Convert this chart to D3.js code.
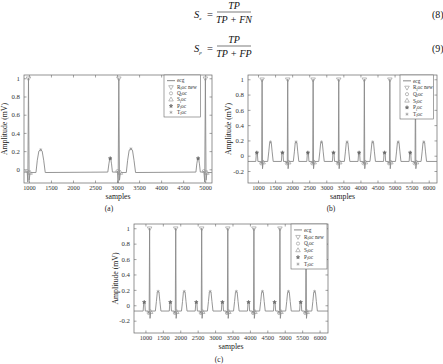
<!DOCTYPE html>
<html lang="en">
<head>
    <meta charset="UTF-8">
    <title>ECG detection</title>
    <script src="https://d3js.org/d3.v7.min.js"></script>
    <style>
        body { margin: 0; background: #fff; }
        svg { display: block; font-family: "Liberation Serif", "DejaVu Serif", serif; }
        .tick text { font-family: "Liberation Serif", serif; fill: #333; }
        .tick line { stroke: #666; stroke-width: 0.6; }
    </style>
</head>
<body>
<script>
    // ---- data ----
    const xTicksA = [1000, 1500, 2000, 2500, 3000, 3500, 4000, 4500, 5000];
    const yTicksA = [0, 0.2, 0.4, 0.6, 0.8, 1];
    const xTicksBC = [1000, 1500, 2000, 2500, 3000, 3500, 4000, 4500, 5000, 5500, 6000];
    const yTicksBC = [-0.2, 0, 0.2, 0.4, 0.6, 0.8, 1];

    const legendLabels = ["ecg", "R|l|oc new", "Q|l|oc", "S|l|oc", "P|l|oc", "T|l|oc"];

    // ecg of panel (a): [sample, amplitude]
    const ecgA = [
        [890, -0.03], [940, -0.03], [960, -0.02], [975, -0.14], [990, 1.0], [1005, -0.12], [1025, -0.04], [1045, -0.035],
        [1160, -0.035], [1190, 0.1], [1225, 0.2], [1268, 0.215], [1300, 0.2], [1335, 0.1], [1370, -0.035],
        [2790, -0.03], [2815, 0.06], [2835, 0.12], [2855, 0.12], [2875, 0.06], [2895, -0.03],
        [2990, -0.03], [3010, -0.02], [3025, -0.15], [3040, 1.0], [3055, -0.12], [3075, -0.04], [3095, -0.035],
        [3210, -0.035], [3240, 0.1], [3275, 0.21], [3315, 0.225], [3350, 0.21], [3385, 0.1], [3420, -0.035],
        [4790, -0.03], [4810, 0.06], [4830, 0.12], [4850, 0.12], [4870, 0.06], [4890, -0.03],
        [4955, -0.03], [4970, -0.02], [4990, -0.14], [5005, 1.0], [5020, -0.12], [5040, -0.04], [5060, -0.035],
        [5150, -0.035]
    ];
    const rLocA = [[990, 1], [3040, 1], [5005, 1]];
    const qLocA = [[960, -0.02], [3010, -0.02], [4970, -0.02]];
    const sLocA = [[1025, -0.04], [3075, -0.04], [5040, -0.04]];
    const pLocA = [[2845, 0.12], [4840, 0.12]];
    const tLocA = [[1268, 0.215], [3315, 0.225]];

    // ecg of panels (b) and (c)
    const ecgBC = [
        [670, -0.075],
        [935, -0.075], [952, 0.04], [980, 0.04], [997, -0.075],
        [1075, -0.075], [1095, -0.1], [1108, -0.07], [1120, 1.0], [1132, -0.17], [1150, -0.09], [1165, -0.075],
        [1285, -0.075], [1315, 0.05], [1340, 0.165], [1365, 0.18], [1390, 0.165], [1415, 0.05], [1445, -0.075],
        [1685, -0.075], [1702, 0.04], [1730, 0.04], [1747, -0.075],
        [1825, -0.075], [1845, -0.1], [1858, -0.07], [1870, 1.0], [1882, -0.17], [1900, -0.09], [1915, -0.075],
        [2035, -0.075], [2065, 0.05], [2090, 0.165], [2115, 0.18], [2140, 0.165], [2165, 0.05], [2195, -0.075],
        [2430, -0.075], [2447, 0.04], [2475, 0.04], [2492, -0.075],
        [2570, -0.075], [2590, -0.1], [2603, -0.07], [2615, 1.0], [2627, -0.17], [2645, -0.09], [2660, -0.075],
        [2780, -0.075], [2810, 0.05], [2835, 0.165], [2860, 0.18], [2885, 0.165], [2910, 0.05], [2940, -0.075],
        [3180, -0.075], [3197, 0.04], [3225, 0.04], [3242, -0.075],
        [3320, -0.075], [3340, -0.1], [3353, -0.07], [3365, 1.0], [3377, -0.17], [3395, -0.09], [3410, -0.075],
        [3530, -0.075], [3560, 0.05], [3585, 0.165], [3610, 0.18], [3635, 0.165], [3660, 0.05], [3690, -0.075],
        [3930, -0.075], [3947, 0.04], [3975, 0.04], [3992, -0.075],
        [4070, -0.075], [4090, -0.1], [4103, -0.07], [4115, 1.0], [4127, -0.17], [4145, -0.09], [4160, -0.075],
        [4280, -0.075], [4310, 0.05], [4335, 0.165], [4360, 0.18], [4385, 0.165], [4410, 0.05], [4440, -0.075],
        [4677, -0.075], [4694, 0.04], [4722, 0.04], [4739, -0.075],
        [4817, -0.075], [4837, -0.1], [4850, -0.07], [4862, 1.0], [4874, -0.17], [4892, -0.09], [4907, -0.075],
        [5027, -0.075], [5057, 0.05], [5082, 0.165], [5107, 0.18], [5132, 0.165], [5157, 0.05], [5187, -0.075],
        [5427, -0.075], [5444, 0.04], [5472, 0.04], [5489, -0.075],
        [5567, -0.075], [5587, -0.1], [5600, -0.07], [5612, 1.0], [5624, -0.17], [5642, -0.09], [5657, -0.075],
        [5777, -0.075], [5807, 0.05], [5832, 0.165], [5857, 0.18], [5882, 0.165], [5907, 0.05], [5937, -0.075],
        [6240, -0.075]
    ];
    const rLocBC = [[1120, 1], [1870, 1], [2615, 1], [3365, 1], [4115, 1], [4862, 1], [5612, 1]];
    const qLocBC = [[1095, -0.1], [1845, -0.1], [2590, -0.1], [3340, -0.1], [4090, -0.1], [4837, -0.1], [5587, -0.1]];
    const sLocBC = [[1150, -0.09], [1900, -0.09], [2645, -0.09], [3395, -0.09], [4145, -0.09], [4892, -0.09], [5642, -0.09]];
    const pLocBC = [[966, 0.04], [1716, 0.04], [2461, 0.04], [3211, 0.04], [3961, 0.04], [4708, 0.04], [5458, 0.04]];
    const tLocBC = [[1365, 0.18], [2115, 0.18], [2860, 0.18], [3610, 0.18], [4360, 0.18], [5107, 0.18], [5857, 0.18]];

    // ---- drawing ----
    const svg = d3.select("body").append("svg")
        .attr("width", 443)
        .attr("height", 364);

    const lineColor = "#8a8a8a";
    const markColor = "#8f8f8f";

    const symbols = [
        {type: d3.symbolTriangle, rot: 180, size: 9, fill: "none"},   // R
        {type: d3.symbolCircle, rot: 0, size: 8, fill: "none"},       // Q
        {type: d3.symbolTriangle, rot: 0, size: 9, fill: "none"},     // S
        {type: d3.symbolStar, rot: 0, size: 4, fill: "#6a6a6a"},      // P
        {type: d3.symbolAsterisk, rot: 0, size: 7, fill: "none"}      // T
    ];

    function drawMarks(g, x, y, pts, s) {
        g.selectAll(null)
            .data(pts)
            .join("path")
            .attr("d", d3.symbol().type(s.type).size(s.size))
            .attr("transform", d => `translate(${x(d[0])},${y(d[1])}) rotate(${s.rot})`)
            .attr("fill", s.fill)
            .attr("stroke", s.fill === "none" ? markColor : "#6a6a6a")
            .attr("stroke-width", 0.6);
    }

    function panel(o) {
        const x = d3.scaleLinear().domain(o.xDomain).range([o.left, o.right]);
        const y = d3.scaleLinear().domain(o.yDomain).range([o.bottom, o.top]);
        const g = svg.append("g");

        g.append("clipPath").attr("id", "clip" + o.id)
            .append("rect")
            .attr("x", o.left).attr("y", o.top)
            .attr("width", o.right - o.left).attr("height", o.bottom - o.top);

        // axes, MATLAB style: ticks inside on all four sides
        const bottom = g.append("g")
            .attr("transform", `translate(0,${o.bottom})`)
            .call(d3.axisBottom(x).tickValues(o.xTicks).tickSizeInner(-2.5).tickSizeOuter(0).tickPadding(3)
                .tickFormat(d => String(d)));
        g.append("g")
            .attr("transform", `translate(0,${o.top})`)
            .call(d3.axisTop(x).tickValues(o.xTicks).tickSizeInner(-2.5).tickSizeOuter(0).tickFormat(""));
        const left = g.append("g")
            .attr("transform", `translate(${o.left},0)`)
            .call(d3.axisLeft(y).tickValues(o.yTicks).tickSizeInner(-2.5).tickSizeOuter(0).tickPadding(4)
                .tickFormat(d => String(d)));
        g.append("g")
            .attr("transform", `translate(${o.right},0)`)
            .call(d3.axisRight(y).tickValues(o.yTicks).tickSizeInner(-2.5).tickSizeOuter(0).tickFormat(""));
        g.selectAll(".domain").remove();
        bottom.attr("font-family", "Liberation Serif").selectAll("text").attr("font-size", 6.3);
        left.attr("font-family", "Liberation Serif").selectAll("text").attr("font-size", 6.8);

        // signal
        const data = g.append("g").attr("clip-path", `url(#clip${o.id})`);
        data.append("path")
            .datum(o.ecg)
            .attr("fill", "none")
            .attr("stroke", lineColor)
            .attr("stroke-width", 0.9)
            .attr("d", d3.line().x(d => x(d[0])).y(d => y(d[1])));

        [o.r, o.q, o.s, o.p, o.t].forEach((pts, i) => drawMarks(data, x, y, pts, symbols[i]));

        // box
        g.append("rect")
            .attr("x", o.left).attr("y", o.top)
            .attr("width", o.right - o.left).attr("height", o.bottom - o.top)
            .attr("fill", "none").attr("stroke", "#666").attr("stroke-width", 0.7);

        // labels
        g.append("text")
            .attr("x", (o.left + o.right) / 2)
            .attr("y", o.bottom + 15.5)
            .attr("text-anchor", "middle")
            .attr("font-size", 7.8)
            .attr("fill", "#222")
            .text("samples");
        g.append("text")
            .attr("transform", `translate(${o.yLabelX},${(o.top + o.bottom) / 2}) rotate(-90)`)
            .attr("text-anchor", "middle")
            .attr("font-size", 7.8)
            .attr("fill", "#222")
            .text("Amplitude (mV)");
        g.append("text")
            .attr("x", o.capX).attr("y", o.capY)
            .attr("text-anchor", "middle")
            .attr("font-size", 7.5)
            .attr("fill", "#222")
            .text(o.caption);

        // legend
        const lg = g.append("g").attr("transform", `translate(${o.legX},${o.top})`);
        lg.append("rect")
            .attr("width", o.legW).attr("height", o.legH)
            .attr("fill", "#fff").attr("stroke", "#666").attr("stroke-width", 0.6);
        const rowH = (o.legH - 4) / legendLabels.length;
        legendLabels.forEach((lab, i) => {
            const cy = 2.5 + rowH * (i + 0.5);
            if (i === 0) {
                lg.append("line")
                    .attr("x1", 3).attr("x2", 11).attr("y1", cy).attr("y2", cy)
                    .attr("stroke", "#555").attr("stroke-width", 0.7);
            } else {
                drawMarks(lg, v => v, v => v, [[7, cy]], symbols[i - 1]);
            }
            const parts = lab.split("|");
            const t = lg.append("text")
                .attr("x", 13).attr("y", cy + 1.8)
                .attr("font-size", 5.3)
                .attr("fill", "#333");
            t.append("tspan").text(parts[0]);
            if (parts.length > 1) {
                t.append("tspan").attr("dy", 1.2).attr("font-size", 3.8).text(parts[1]);
                t.append("tspan").attr("dy", -1.2).text(parts[2]);
            }
        });
    }

    panel({
        id: "a", left: 24, right: 212, top: 75, bottom: 183,
        xDomain: [888, 5155], yDomain: [-0.15, 1.036],
        xTicks: xTicksA, yTicks: yTicksA,
        ecg: ecgA, r: rLocA, q: qLocA, s: sLocA, p: pLocA, t: tLocA,
        yLabelX: 7, capX: 109, capY: 211, caption: "(a)",
        legX: 164, legW: 36.5, legH: 42
    });
    panel({
        id: "b", left: 248, right: 437, top: 75, bottom: 183,
        xDomain: [707, 6243], yDomain: [-0.357, 1.056],
        xTicks: xTicksBC, yTicks: yTicksBC,
        ecg: ecgBC, r: rLocBC, q: qLocBC, s: sLocBC, p: pLocBC, t: tLocBC,
        yLabelX: 231, capX: 331, capY: 211, caption: "(b)",
        legX: 400, legW: 33.5, legH: 44
    });
    panel({
        id: "c", left: 134, right: 328, top: 224, bottom: 333,
        xDomain: [672, 6242], yDomain: [-0.36, 1.055],
        xTicks: xTicksBC, yTicks: yTicksBC,
        ecg: ecgBC, r: rLocBC, q: qLocBC, s: sLocBC, p: pLocBC, t: tLocBC,
        yLabelX: 117.5, capX: 219, capY: 362, caption: "(c)",
        legX: 291, legW: 36, legH: 45
    });

    // ---- equations ----
    function equation(sub, denom, num, base) {
        const eq = svg.append("g").attr("font-style", "italic").attr("fill", "#111");
        const s = eq.append("text").attr("x", 194).attr("y", base + 18).attr("font-size", 10.5);
        s.append("tspan").text("S");
        s.append("tspan").attr("dy", 1.5).attr("font-size", 5).text(sub);
        eq.append("text").attr("x", 207).attr("y", base + 18).attr("font-size", 10.5)
            .attr("font-style", "normal").text("=");
        eq.append("text").attr("x", 234).attr("y", base + 9).attr("font-size", 10)
            .attr("text-anchor", "middle").text(num);
        eq.append("line")
            .attr("x1", 217).attr("x2", 251).attr("y1", base + 12).attr("y2", base + 12)
            .attr("stroke", "#222").attr("stroke-width", 0.6);
        eq.append("text").attr("x", 234).attr("y", base + 23).attr("font-size", 10)
            .attr("text-anchor", "middle").text(denom);
    }
    equation("e", "TP + FN", "TP", 0);
    equation("p", "TP + FP", "TP", 34);
    svg.append("text").attr("x", 432).attr("y", 18).attr("font-size", 10).attr("fill", "#111").text("(8)");
    svg.append("text").attr("x", 432).attr("y", 52).attr("font-size", 10).attr("fill", "#111").text("(9)");
</script>
</body>
</html>
